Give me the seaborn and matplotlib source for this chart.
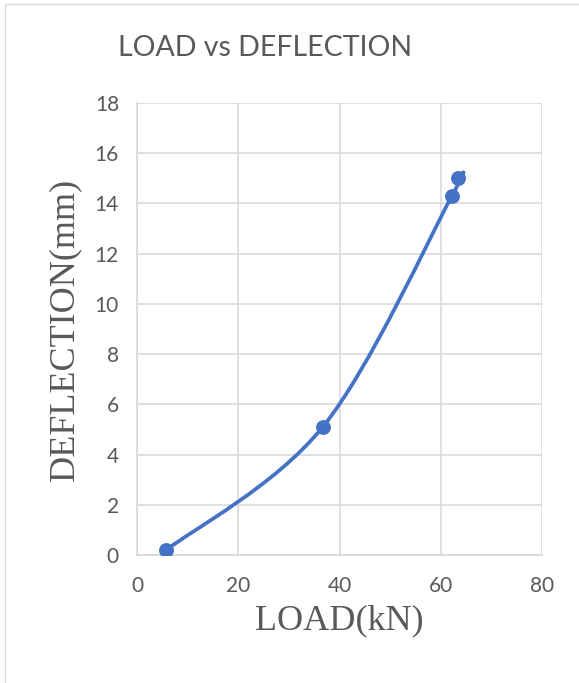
import numpy as np
import matplotlib
matplotlib.use("Agg")
import matplotlib.pyplot as plt
import seaborn as sns
import pandas as pd
from matplotlib.path import Path
from matplotlib.patches import PathPatch, Rectangle

# Data
load_kn = [5.8, 36.7, 62.2, 63.4]
deflection_mm = [0.2, 5.1, 14.3, 15.0]
x_ticks = [0, 20, 40, 60, 80]
y_ticks = [0, 2, 4, 6, 8, 10, 12, 14, 16, 18]

title = "LOAD vs DEFLECTION"
xlabel = "LOAD(kN)"
ylabel = "DEFLECTION(mm)"

blue = "#4472C4"
grey_text = "#595959"
grid_c = "#d9d9d9"

sns.set_theme(style="white")
plt.rcParams['font.family'] = ['Lato', 'DejaVu Sans']

fig = plt.figure(figsize=(5.79, 6.83), dpi=100)
ax = fig.add_axes([137/579, 1-555/683, (542-137)/579, (555-103)/683])

df = pd.DataFrame({"load": load_kn, "defl": deflection_mm})

# Excel-style smoothed line: cubic Bezier with Catmull-Rom control points
pts = np.column_stack([load_kn, deflection_mm])
n = len(pts)
verts = [tuple(pts[0])]
codes = [Path.MOVETO]
for i in range(n - 1):
    p0 = pts[i - 1] if i > 0 else pts[i]
    p1 = pts[i]
    p2 = pts[i + 1]
    p3 = pts[i + 2] if i + 2 < n else pts[i + 1]
    c1 = p1 + (p2 - p0) / 6.0
    c2 = p2 - (p3 - p1) / 6.0
    verts += [tuple(c1), tuple(c2), tuple(p2)]
    codes += [Path.CURVE4] * 3
ax.add_patch(PathPatch(Path(verts, codes), facecolor="none", edgecolor=blue,
                       lw=2.7, capstyle="round", zorder=3))

sns.scatterplot(data=df, x="load", y="defl", ax=ax, color=blue, s=115,
                edgecolor=blue, linewidth=0, zorder=4, legend=False)

ax.set_xlim(0, 80)
ax.set_ylim(0, 18)
ax.set_xticks(x_ticks)
ax.set_yticks(y_ticks)
ax.grid(True, color=grid_c, lw=1.2)
ax.set_axisbelow(True)
for s in ["top", "right"]:
    ax.spines[s].set_visible(False)
for s in ["left", "bottom"]:
    ax.spines[s].set_color(grid_c)
    ax.spines[s].set_linewidth(1.2)
ax.tick_params(axis="both", which="both", length=6, width=1.2, color=grid_c,
               labelcolor=grey_text, labelsize=15, direction="out", pad=7)
ax.tick_params(axis="x", pad=9)

ax.set_xlabel(xlabel, fontfamily="Liberation Serif", fontsize=26, color=grey_text, labelpad=6)
ax.set_ylabel(ylabel, fontfamily="Liberation Serif", fontsize=26, color=grey_text, labelpad=10)

fig.text(265/579, 1 - 48/683, title, ha="center", va="center", fontsize=20.5, color=grey_text)

# chart area border
fig.patches.append(Rectangle((5/579, -0.01), 1.0, 1 - 4/683 + 0.01, transform=fig.transFigure,
                             fill=False, edgecolor=grid_c, lw=1.0))

fig.savefig("out.png", dpi=100)
